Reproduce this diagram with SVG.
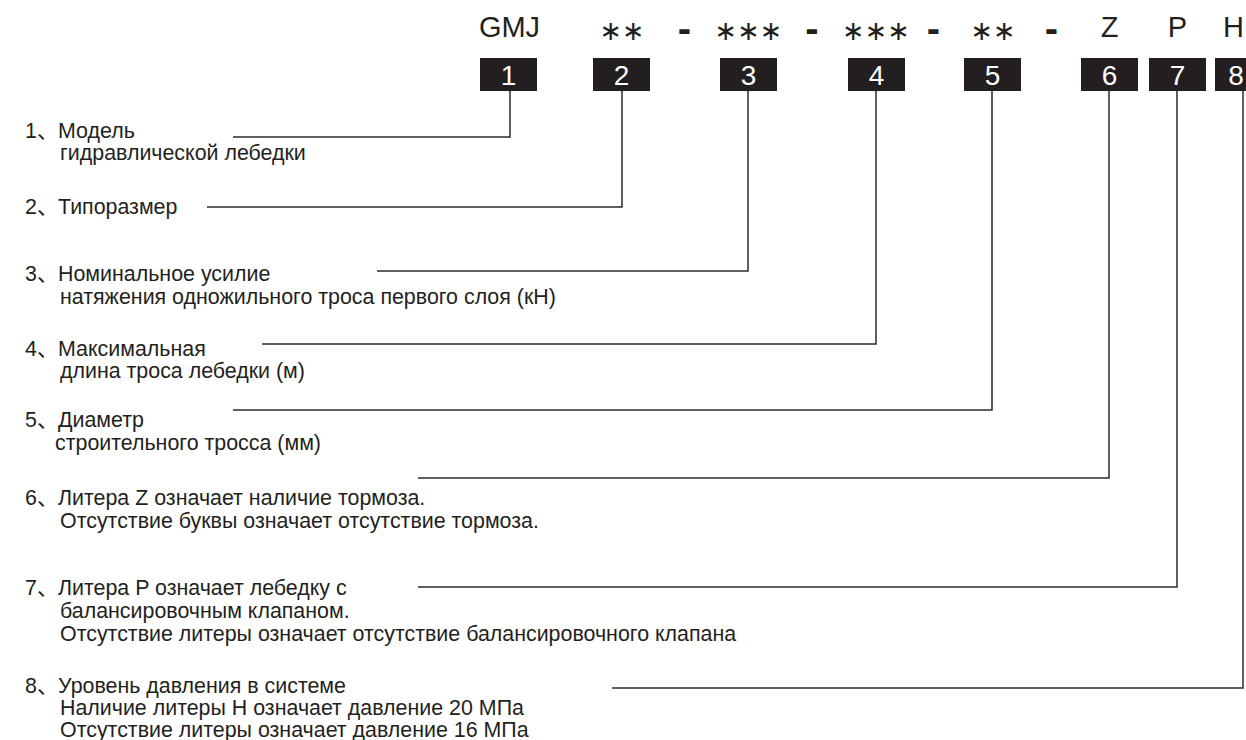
<svg xmlns="http://www.w3.org/2000/svg" width="1246" height="740" viewBox="0 0 1246 740">
<style>
.hd{font-family:"Liberation Sans",Arial,sans-serif;font-size:29px;fill:#231f20;text-anchor:middle}
.ast{font-family:"DejaVu Sans",sans-serif;font-size:27px;fill:#231f20;text-anchor:middle}
.dash{font-family:"Liberation Sans",Arial,sans-serif;font-weight:bold;font-size:40px;fill:#231f20;text-anchor:middle}
.box{fill:#231f20}
.num{font-family:"Liberation Sans",Arial,sans-serif;font-size:28px;fill:#ffffff;text-anchor:middle}
.t{font-family:"Liberation Sans",Arial,"Noto Sans CJK SC",sans-serif;font-size:21.4px;fill:#231f20}
.ln{fill:none;stroke:#2b2b2b;stroke-width:1.5}
</style>
<g id="code">
<text class="hd" x="509.5" y="37">GMJ</text>
<text class="ast" x="622" y="40">∗∗</text>
<text class="dash" x="684.5" y="42">-</text>
<text class="ast" x="748.5" y="40">∗∗∗</text>
<text class="dash" x="812" y="42">-</text>
<text class="ast" x="876" y="40">∗∗∗</text>
<text class="dash" x="933.5" y="42">-</text>
<text class="ast" x="993" y="40">∗∗</text>
<text class="dash" x="1051.5" y="42">-</text>
<text class="hd" x="1109.5" y="37">Z</text>
<text class="hd" x="1177.5" y="37">P</text>
<text class="hd" x="1244" y="37" style="text-anchor:end">H</text>
</g>
<g id="box1"><rect class="box" x="480" y="58" width="57" height="33"/><text class="num" x="508.5" y="85">1</text></g>
<g id="box2"><rect class="box" x="593" y="58" width="57" height="33"/><text class="num" x="621.5" y="85">2</text></g>
<g id="box3"><rect class="box" x="720" y="58" width="57" height="33"/><text class="num" x="748.5" y="85">3</text></g>
<g id="box4"><rect class="box" x="848" y="58" width="57" height="33"/><text class="num" x="876.5" y="85">4</text></g>
<g id="box5"><rect class="box" x="964" y="58" width="57" height="33"/><text class="num" x="992.5" y="85">5</text></g>
<g id="box6"><rect class="box" x="1081" y="58" width="57" height="33"/><text class="num" x="1109.5" y="85">6</text></g>
<g id="box7"><rect class="box" x="1149" y="58" width="57" height="33"/><text class="num" x="1177.5" y="85">7</text></g>
<g id="box8"><rect class="box" x="1215" y="58" width="57" height="33"/><text class="num" x="1236" y="85">8</text></g>
<g id="connectors">
<path class="ln" d="M233 137H510V91"/>
<path class="ln" d="M207 207H622V91"/>
<path class="ln" d="M377 271H748V91"/>
<path class="ln" d="M262 344H876V91"/>
<path class="ln" d="M233 410H992V91"/>
<path class="ln" d="M418 478H1109V91"/>
<path class="ln" d="M418 587H1177V91"/>
<path class="ln" d="M612 688H1243V91"/>
</g>
<g id="label1"><text class="t" y="138"><tspan x="25">1、</tspan><tspan x="58">Модель</tspan></text><text class="t" x="60" y="160">гидравлической лебедки</text></g>
<g id="label2"><text class="t" y="214"><tspan x="25">2、</tspan><tspan x="58">Типоразмер</tspan></text></g>
<g id="label3"><text class="t" y="281"><tspan x="25">3、</tspan><tspan x="58">Номинальное усилие</tspan></text><text class="t" x="60" y="304">натяжения одножильного троса первого слоя (кН)</text></g>
<g id="label4"><text class="t" y="356"><tspan x="25">4、</tspan><tspan x="58">Максимальная</tspan></text><text class="t" x="60" y="378">длина троса лебедки (м)</text></g>
<g id="label5"><text class="t" y="427"><tspan x="25">5、</tspan><tspan x="58">Диаметр</tspan></text><text class="t" x="55" y="450">строительного тросса (мм)</text></g>
<g id="label6"><text class="t" y="505"><tspan x="25">6、</tspan><tspan x="58">Литера Z означает наличие тормоза.</tspan></text><text class="t" x="60" y="528">Отсутствие буквы означает отсутствие тормоза.</text></g>
<g id="label7"><text class="t" y="595"><tspan x="25">7、</tspan><tspan x="58">Литера P означает лебедку с</tspan></text><text class="t" x="60" y="618">балансировочным клапаном.</text><text class="t" x="60" y="641">Отсутствие литеры означает отсутствие балансировочного клапана</text></g>
<g id="label8"><text class="t" y="693"><tspan x="25">8、</tspan><tspan x="58">Уровень давления в системе</tspan></text><text class="t" x="60" y="715">Наличие литеры H означает давление 20 МПа</text><text class="t" x="60" y="737">Отсутствие литеры означает давление 16 МПа</text></g>
</svg>
